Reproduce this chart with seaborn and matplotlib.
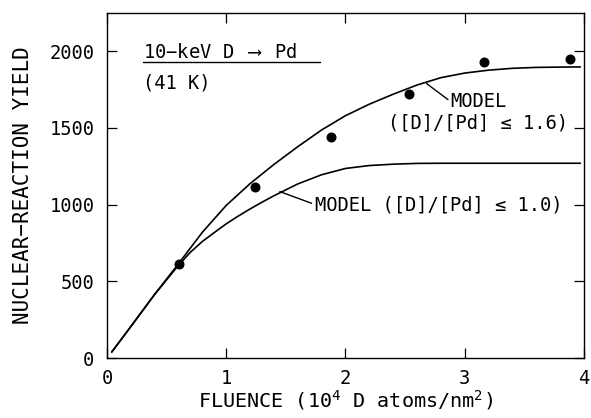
import numpy as np
import pandas as pd
import matplotlib
matplotlib.use("Agg")
import matplotlib.pyplot as plt
import seaborn as sns

# Measured data points
fluence_pts = [0.60, 1.24, 1.88, 2.53, 3.16, 3.88]
yield_pts = [612, 1115, 1443, 1719, 1927, 1953]

# Model curve ([D]/[Pd] <= 1.6)
x_m16 = [0.04, 0.2, 0.4, 0.6, 0.8, 1.0, 1.2, 1.4, 1.6, 1.8, 2.0, 2.2, 2.4,
         2.6, 2.8, 3.0, 3.2, 3.4, 3.6, 3.8, 3.97]
y_m16 = [39, 205, 415, 615, 820, 995, 1137, 1262, 1378, 1487, 1580, 1655, 1720,
         1780, 1828, 1858, 1877, 1889, 1895, 1897, 1898]

# Model curve ([D]/[Pd] <= 1.0)
x_m10 = [0.04, 0.2, 0.4, 0.6, 0.7, 0.8, 0.9, 1.0, 1.1, 1.2, 1.3, 1.4, 1.6, 1.8,
         2.0, 2.2, 2.4, 2.6, 2.8, 3.0, 3.5, 3.97]
y_m10 = [39, 205, 415, 605, 690, 760, 818, 875, 925, 972, 1016, 1058, 1135, 1195,
         1236, 1255, 1264, 1269, 1270, 1270, 1270, 1270]

x_ticks = [0, 1, 2, 3, 4]
y_ticks = [0, 500, 1000, 1500, 2000]

sns.set_theme(style="ticks")
plt.rcParams['font.family'] = ['DejaVu Sans Mono', 'DejaVu Sans']
plt.rcParams['mathtext.fontset'] = 'dejavusans'
plt.rcParams['mathtext.default'] = 'regular'
plt.rcParams['text.color'] = 'black'
plt.rcParams['axes.labelcolor'] = 'black'

fig = plt.figure(figsize=(5.91, 4.18), dpi=100)
ax = fig.add_axes([0.181, 0.1435, 0.807, 0.8255])

df16 = pd.DataFrame({"x": x_m16, "y": y_m16})
df10 = pd.DataFrame({"x": x_m10, "y": y_m10})
dpts = pd.DataFrame({"x": fluence_pts, "y": yield_pts})

sns.lineplot(data=df16, x="x", y="y", ax=ax, color="black", lw=1.2, sort=False)
sns.lineplot(data=df10, x="x", y="y", ax=ax, color="black", lw=1.2, sort=False)
sns.scatterplot(data=dpts, x="x", y="y", ax=ax, color="black", s=52,
                edgecolor="black", linewidth=0, zorder=5)

fs = 13.5
ax.set_xlim(0, 4)
ax.set_ylim(0, 2250)
ax.set_xticks(x_ticks)
ax.set_yticks(y_ticks)
ax.set_xticklabels([str(t) for t in x_ticks])
ax.set_yticklabels([str(t) for t in y_ticks])
ax.tick_params(direction="in", length=7, width=0.9, top=True, right=True,
               labelsize=fs, colors="black")
ax.tick_params(axis="x", labeltop=False, pad=8)
ax.tick_params(axis="y", labelright=False, pad=9)
for sp in ax.spines.values():
    sp.set_visible(True)
    sp.set_linewidth(1.0)
    sp.set_color("black")

ax.set_xlabel("FLUENCE (10$^{4}$ D atoms/nm$^{2}$)", fontsize=14.5, labelpad=0)
ax.set_ylabel("NUCLEAR\u2212REACTION YIELD", fontsize=15, labelpad=12)

ax.text(0.30, 1994, "10\u2212keV D $\\longrightarrow$ Pd", fontsize=fs, ha="left", va="center")
ax.plot([0.30, 1.785], [1929, 1929], color="black", lw=1.0)
ax.text(0.30, 1795, "(41 K)", fontsize=fs, ha="left", va="center")

# pointer lines and model labels
ax.plot([2.68, 2.86], [1790, 1685], color="black", lw=1.0)
ax.text(2.875, 1672, "MODEL", fontsize=fs, ha="left", va="center")
ax.text(3.87, 1535, "([D]/[Pd] \u2264 1.6)", fontsize=fs, ha="right", va="center")

ax.plot([1.45, 1.716], [1085, 1009], color="black", lw=1.0)
ax.text(1.743, 998, "MODEL ([D]/[Pd] \u2264 1.0)", fontsize=fs, ha="left", va="center")

fig.savefig("out.png", dpi=100)
